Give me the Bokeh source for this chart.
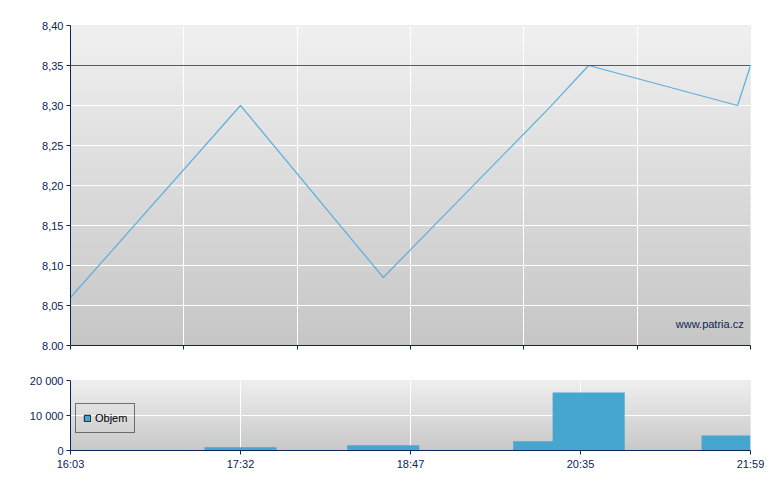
import numpy as np
from bokeh.plotting import figure
from bokeh.layouts import column
from bokeh.models import (Range1d, FixedTicker, Label, Span, Legend, LegendItem,
                          ColumnDataSource)
from bokeh.embed import file_html
from bokeh.resources import INLINE

# ---------------- data ----------------
x_tick_labels = ["16:03", "17:32", "18:47", "20:35", "21:59"]
x_label_pos = [0, 25, 50, 75, 100]
top_x_ticks = [0, 100 / 6, 200 / 6, 50, 400 / 6, 500 / 6, 100]

trade_pos = [0, 25, 46, 70.4, 76.2, 98.1, 100]
price = [8.06, 8.30, 8.085, 8.297, 8.35, 8.30, 8.35]
volume = [0, 950, 1500, 2650, 16600, 4300, 0]
ref_price = 8.35

price_ticks = [8.00, 8.05, 8.10, 8.15, 8.20, 8.25, 8.30, 8.35, 8.40]
price_tick_labels = ["8.00", "8,05", "8,10", "8,15", "8,20", "8,25", "8,30", "8,35", "8,40"]
vol_ticks = [0, 10000, 20000]
vol_tick_labels = ["0", "10 000", "20 000"]
bar_width = 10.6

# ---------------- style ----------------
NAVY = "#0c2458"
LINE_BLUE = "#5ab0da"
BAR_BLUE = "#47a6cf"
RED = "#b83232"
FONT = "Liberation Sans"
FS = "11px"


def gradient(top_v, bot_v, n=256):
    img = np.empty((n, 1), dtype=np.uint32)
    view = img.view(dtype=np.uint8).reshape((n, 1, 4))
    for i in range(n):
        t = i / (n - 1)  # row 0 = bottom
        g = int(round(bot_v + (top_v - bot_v) * t))
        view[i, 0, 0] = g
        view[i, 0, 1] = g
        view[i, 0, 2] = g
        view[i, 0, 3] = 255
    return img


def style_axes(p):
    for ax in (p.xaxis[0], p.yaxis[0]):
        ax.axis_line_color = NAVY
        ax.axis_line_width = 1
        ax.major_tick_line_color = NAVY
        ax.major_tick_out = 4
        ax.major_tick_in = 0
        ax.minor_tick_line_color = None
        ax.major_label_text_color = NAVY
        ax.major_label_text_font = FONT
        ax.major_label_text_font_size = FS
        ax.major_label_standoff = 3
    p.xgrid.grid_line_color = "white"
    p.ygrid.grid_line_color = "white"
    p.xgrid.grid_line_width = 1
    p.ygrid.grid_line_width = 1
    p.outline_line_color = None


# ---------------- top chart ----------------
p1 = figure(frame_width=680, frame_height=320, output_backend="svg",
            toolbar_location=None, x_range=Range1d(0, 100),
            y_range=Range1d(8.0, 8.4),
            min_border_left=70, min_border_right=22, min_border_top=25,
            min_border_bottom=12, background_fill_color="#dcdcdc",
            border_fill_color="white")
bg1 = p1.image_rgba(image=[gradient(240, 198)], x=0, y=8.0, dw=100, dh=0.4)
bg1.level = "image"
p1.xaxis.ticker = FixedTicker(ticks=top_x_ticks)
p1.xaxis.major_label_overrides = {t: "" for t in top_x_ticks}
p1.yaxis.ticker = FixedTicker(ticks=price_ticks)
p1.yaxis.major_label_overrides = dict(zip(price_ticks, price_tick_labels))
p1.xgrid.ticker = FixedTicker(ticks=top_x_ticks)
p1.ygrid.ticker = FixedTicker(ticks=price_ticks)
style_axes(p1)
p1.xaxis.major_label_text_font_size = "1px"
p1.xaxis.major_label_standoff = 0

src = ColumnDataSource(dict(x=trade_pos, price=price, volume=volume))
p1.add_layout(Span(location=ref_price, dimension="width", line_color=RED, line_width=1))
p1.line("x", "price", source=src, line_color=LINE_BLUE, line_width=1.2)
p1.add_layout(Label(x=99.0, y=8.0275, text="www.patria.cz", text_align="right",
                    text_baseline="middle", text_color=NAVY, text_font=FONT,
                    text_font_size=FS))

# ---------------- bottom chart ----------------
p2 = figure(frame_width=680, frame_height=70, output_backend="svg",
            toolbar_location=None, x_range=Range1d(0, 100),
            y_range=Range1d(0, 20000),
            min_border_left=70, min_border_right=22, min_border_top=23,
            min_border_bottom=22, background_fill_color="#dcdcdc",
            border_fill_color="white")
bg2 = p2.image_rgba(image=[gradient(239, 200)], x=0, y=0, dw=100, dh=20000)
bg2.level = "image"
p2.xaxis.ticker = FixedTicker(ticks=x_label_pos)
p2.xaxis.major_label_overrides = dict(zip(x_label_pos, x_tick_labels))
p2.yaxis.ticker = FixedTicker(ticks=vol_ticks)
p2.yaxis.major_label_overrides = dict(zip(vol_ticks, vol_tick_labels))
p2.xgrid.ticker = FixedTicker(ticks=x_label_pos)
p2.ygrid.ticker = FixedTicker(ticks=vol_ticks)
style_axes(p2)

p2.vbar(x="x", top="volume", bottom=0, width=bar_width, source=src,
        fill_color=BAR_BLUE, line_color=None)
dummy = p2.vbar(x="x", top="volume", bottom=0, width=bar_width, source=src,
                fill_color=BAR_BLUE, line_color="#1a1a1a", line_width=1)
dummy.visible = False
legend = Legend(items=[LegendItem(label="Objem", renderers=[dummy])],
                location=(5, 17), border_line_color="black", border_line_width=1,
                background_fill_alpha=0, glyph_width=8, glyph_height=8,
                label_text_font=FONT, label_text_font_size=FS,
                label_text_color="black", label_height=14, label_standoff=4,
                padding=7, spacing=0, margin=0)
p2.add_layout(legend)

layout = column(p1, p2, spacing=0)
open("out.html", "w").write(file_html(layout, INLINE))
